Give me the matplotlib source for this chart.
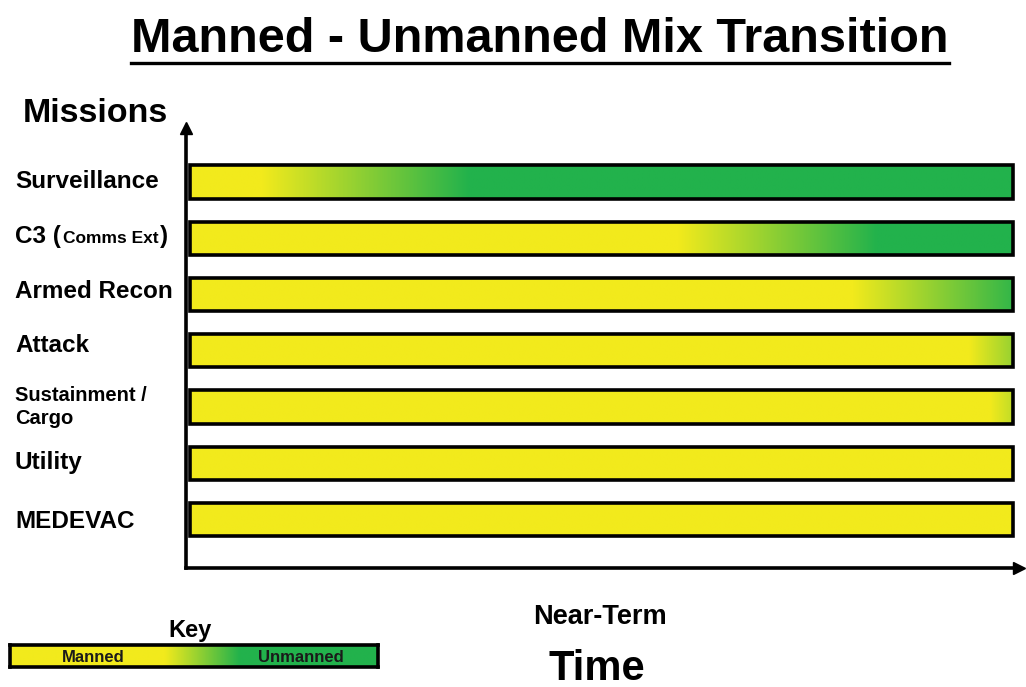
import matplotlib.pyplot as plt
import numpy as np
from matplotlib.colors import LinearSegmentedColormap
from matplotlib.patches import Rectangle
from matplotlib.lines import Line2D

plt.rcParams['font.family'] = ['Liberation Sans', 'DejaVu Sans']
plt.rcParams['font.weight'] = 'bold'

# missions, top to bottom
missions = ['Surveillance', 'C3', 'Armed Recon', 'Attack', 'Sustainment /\nCargo', 'Utility', 'MEDEVAC']
# where along the time axis (0-100) the manned -> unmanned shift starts / ends
shift_start = [9, 59, 80, 94, 96.5, None, None]
shift_end = [34, 83, 101, 106, 108, None, None]
bar_from, bar_to = 0.5, 99.3

yellow = '#F2EA1C'
green = '#22B24C'
cmap = LinearSegmentedColormap.from_list('mix', [yellow, green])

fig = plt.figure(figsize=(10.26, 6.87), dpi=100)
W, H = 1026, 687

def fx(px):
    return px / W

def fy(py):
    return 1 - py / H

ax = fig.add_axes([fx(186), fy(568), fx(1019) - fx(186), fy(128) - fy(568)])
ax.set_xlim(0, 100)
ax.set_ylim(6.86, -0.96)

bar_h = 0.59
xs = np.linspace(bar_from, bar_to, 600)
for i, name in enumerate(missions):
    s, e = shift_start[i], shift_end[i]
    if s is None:
        t = np.zeros_like(xs)
    else:
        t = np.clip((xs - s) / (e - s), 0, 1)
    ax.imshow(t[np.newaxis, :], extent=[bar_from, bar_to, i + bar_h / 2, i - bar_h / 2],
              aspect='auto', cmap=cmap, vmin=0, vmax=1, interpolation='bilinear', zorder=2)
    ax.add_patch(Rectangle((bar_from, i - bar_h / 2), bar_to - bar_from, bar_h,
                           fill=False, edgecolor='black', linewidth=2.6, zorder=3))

ax.set_xlim(0, 100)
ax.set_ylim(6.86, -0.96)
ax.set_xticks([])
ax.set_yticks([])
for side in ['top', 'right']:
    ax.spines[side].set_visible(False)
for side in ['left', 'bottom']:
    ax.spines[side].set_linewidth(2.6)
ax.plot(0, 1, marker='^', color='black', markersize=8, transform=ax.transAxes, clip_on=False)
ax.plot(1, 0, marker='>', color='black', markersize=8, transform=ax.transAxes, clip_on=False)

# mission labels
label_y = [182, 237, 291, 346, 407, 462, 521]
for i, name in enumerate(missions):
    if name == 'C3':
        continue
    size = 14.5 if '\n' in name else 17.5
    fig.text(fx(15), fy(label_y[i]), name, fontsize=size, fontweight='bold',
             ha='left', va='center', linespacing=1.25)

# C3 label with smaller inner text
fig.canvas.draw()
r = fig.canvas.get_renderer()
t1 = fig.text(fx(15), fy(237), 'C3 (', fontsize=17.5, fontweight='bold', ha='left', va='center')
bb = t1.get_window_extent(r)
t2 = fig.text(bb.x1 / W + 0.002, fy(238), 'Comms Ext', fontsize=12.5, fontweight='bold', ha='left', va='center')
bb2 = t2.get_window_extent(r)
fig.text(bb2.x1 / W + 0.001, fy(237), ')', fontsize=17.5, fontweight='bold', ha='left', va='center')

# title with underline
title = fig.text(fx(540), fy(39), 'Manned - Unmanned Mix Transition', fontsize=35,
                 fontweight='bold', ha='center', va='center')
tb = title.get_window_extent(r)
fig.add_artist(Line2D([tb.x0 / W, tb.x1 / W], [fy(63), fy(63)], color='black', linewidth=2.4))

fig.text(fx(95), fy(114), 'Missions', fontsize=24.5, fontweight='bold', ha='center', va='center')
fig.text(fx(600), fy(617), 'Near-Term', fontsize=19.5, fontweight='bold', ha='center', va='center')
fig.text(fx(597), fy(669), 'Time', fontsize=30, fontweight='bold', ha='center', va='center')

# key
fig.text(fx(190), fy(631), 'Key', fontsize=17, fontweight='bold', ha='center', va='center')
kax = fig.add_axes([fx(10), fy(667), fx(378) - fx(10), fy(645) - fy(667)])
kx = np.linspace(0, 1, 400)
kt = np.clip((kx - 0.42) / (0.625 - 0.42), 0, 1)
kax.imshow(kt[np.newaxis, :], extent=[0, 1, 0, 1], aspect='auto', cmap=cmap,
           vmin=0, vmax=1, interpolation='bilinear')
kax.set_xlim(0, 1)
kax.set_ylim(0, 1)
kax.set_xticks([])
kax.set_yticks([])
for sp in kax.spines.values():
    sp.set_linewidth(2.6)
kax.text(0.225, 0.45, 'Manned', fontsize=12, fontweight='bold', color='#1a1a1a',
         ha='center', va='center', transform=kax.transAxes)
kax.text(0.79, 0.45, 'Unmanned', fontsize=12, fontweight='bold', color='#1a1a1a',
         ha='center', va='center', transform=kax.transAxes)

fig.savefig('out.png', dpi=100)
